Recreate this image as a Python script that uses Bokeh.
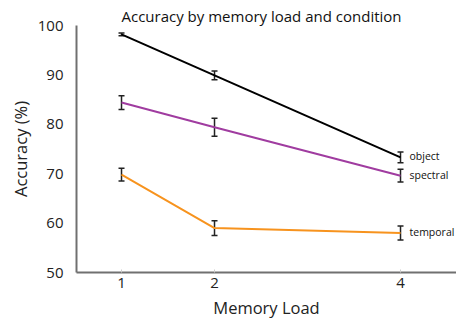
from bokeh.plotting import figure
from bokeh.models import Range1d, FixedTicker, Label, Whisker, ColumnDataSource
from bokeh.embed import file_html
from bokeh.resources import INLINE

memory_load = [1, 2, 4]
object_acc = [98.2, 89.9, 73.3]
object_err = [0.3, 0.9, 1.1]
spectral_acc = [84.4, 79.4, 69.6]
spectral_err = [1.4, 1.8, 1.3]
temporal_acc = [69.8, 59.0, 58.0]
temporal_err = [1.3, 1.5, 1.4]
series_names = ["object", "spectral", "temporal"]
y_ticks = [50, 60, 70, 80, 90, 100]
colors = ["#000000", "#a03ca0", "#f7931e"]

FONT = "Open Sans"

p = figure(width=456, height=321, output_backend="svg", toolbar_location=None,
           x_range=Range1d(0.516, 4.602), y_range=Range1d(50, 100),
           min_border_left=76, min_border_right=0, min_border_top=25, min_border_bottom=49,
           title="Accuracy by memory load and condition")
p.outline_line_color = None
p.grid.visible = False
p.background_fill_color = "white"
p.title.text_font = FONT
p.title.text_font_size = "15px"
p.title.text_font_style = "normal"
p.title.text_color = "#111111"
p.title.align = "left"
p.title.offset = 45
p.title.standoff = 0

for acc, err, col, name in zip([object_acc, spectral_acc, temporal_acc],
                               [object_err, spectral_err, temporal_err], colors, series_names):
    src = ColumnDataSource(dict(x=memory_load, y=acc,
                                lo=[a - e for a, e in zip(acc, err)],
                                hi=[a + e for a, e in zip(acc, err)]))
    p.line("x", "y", source=src, line_color=col, line_width=2)
    wk = Whisker(base="x", upper="hi", lower="lo", source=src, line_color="#222222",
                 line_width=1.5)
    for head in (wk.upper_head, wk.lower_head):
        head.size = 6
        head.line_width = 1.5
        head.line_color = "#222222"
    p.add_layout(wk)
    p.add_layout(Label(x=memory_load[-1], y=acc[-1], text=name, x_offset=9, y_offset=1,
                       text_font=FONT, text_font_size="10.5px",
                       text_baseline="middle", text_color="#111111"))

# axes
p.xaxis.ticker = FixedTicker(ticks=memory_load)
p.yaxis.ticker = FixedTicker(ticks=y_ticks)
p.xaxis.axis_label = "Memory Load"
p.yaxis.axis_label = "Accuracy (%)"
for ax in (p.xaxis, p.yaxis):
    ax.axis_line_color = "#707070"
    ax.axis_line_width = 2
    ax.major_label_text_font = FONT
    ax.major_label_text_font_size = "15px"
    ax.major_label_text_color = "#222222"
    ax.axis_label_text_font = FONT
    ax.axis_label_text_font_size = "16.5px"
    ax.axis_label_text_font_style = "normal"
    ax.axis_label_text_color = "#222222"
    ax.minor_tick_line_color = None
p.yaxis.major_tick_line_color = None
p.yaxis.major_label_standoff = 7
p.yaxis.axis_label_standoff = 3
p.xaxis.major_tick_line_color = "#cccccc"
p.xaxis.major_tick_in = 3
p.xaxis.major_tick_out = 0
p.xaxis.major_label_standoff = 5
p.xaxis.axis_label_standoff = 5

open("out.html", "w").write(file_html(p, INLINE))
